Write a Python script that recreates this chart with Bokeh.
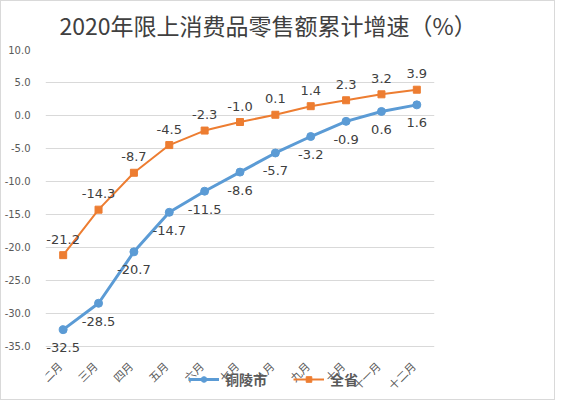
from bokeh.plotting import figure
from bokeh.models import ColumnDataSource, Range1d, FactorRange, Legend, LegendItem, NumeralTickFormatter, LabelSet
from bokeh.core.properties import value
from bokeh.embed import file_html
from bokeh.resources import INLINE
import math

months = ["二月", "三月", "四月", "五月", "六月", "七月", "八月", "九月", "十月", "十一月", "十二月"]
tongling = [-32.5, -28.5, -20.7, -14.7, -11.5, -8.6, -5.7, -3.2, -0.9, 0.6, 1.6]
province = [-21.2, -14.3, -8.7, -4.5, -2.3, -1.0, 0.1, 1.4, 2.3, 3.2, 3.9]
y_ticks = [10, 5, 0, -5, -10, -15, -20, -25, -30, -35]
y_bottom = -35
title_text = "2020年限上消费品零售额累计增速（%）"
series_names = ["铜陵市", "全省"]

BLUE = "#5b9bd5"
ORANGE = "#ed7d31"

src = ColumnDataSource(dict(
    m=months, t=tongling, p=province,
    tl=[f"{v:.1f}" for v in tongling],
    pl=[f"{v:.1f}" for v in province],
    base=[y_bottom] * len(months),
))

p = figure(frame_width=389, frame_height=350, output_backend="svg", toolbar_location=None,
           x_range=FactorRange(*months), y_range=Range1d(-43.1, 10),
           min_border_left=41, min_border_right=120, min_border_top=42, min_border_bottom=0)
p.styles = {"border": "1px solid #d9d9d9", "box-sizing": "border-box"}

p.title.text = title_text
p.title.align = "left"
p.title.offset = 14
p.title.text_font = "Noto Sans CJK SC"
p.title.text_font_size = "23px"
p.title.text_font_style = "normal"
p.title.text_color = "#404040"
p.title.standoff = 12
p.title.vertical_align = "top"

p.outline_line_color = None
p.xgrid.grid_line_color = None
p.ygrid.grid_line_color = "#d9d9d9"
p.ygrid.grid_line_width = 1

p.yaxis.ticker = y_ticks
p.yaxis.formatter = NumeralTickFormatter(format="0.0")
p.yaxis.axis_line_color = None
p.yaxis.major_tick_line_color = None
p.yaxis.minor_tick_line_color = None
p.yaxis.major_label_text_font = "DejaVu Sans"
p.yaxis.major_label_text_font_size = "10px"
p.yaxis.major_label_text_color = "#595959"
p.yaxis.major_label_standoff = 9

p.xaxis.visible = False

# category labels under the -35 line, rotated like the reference
p.add_layout(LabelSet(x="m", y="base", text="m", source=src, angle=math.pi / 4,
                      x_offset=-3.5, y_offset=-17.5, text_align="right", text_baseline="middle",
                      text_font=value("Noto Sans CJK SC"), text_font_size="11px",
                      text_color="#595959"))

l1 = p.line("m", "t", source=src, line_color=BLUE, line_width=3)
c1 = p.scatter("m", "t", source=src, marker="circle", size=8, fill_color=BLUE, line_color=BLUE)
l2 = p.line("m", "p", source=src, line_color=ORANGE, line_width=2)
c2 = p.scatter("m", "p", source=src, marker="square", size=7, fill_color=ORANGE, line_color=ORANGE)

p.add_layout(LabelSet(x="m", y="t", text="tl", source=src, y_offset=-18, text_align="center",
                      text_baseline="middle", text_font=value("DejaVu Sans"), text_font_size="13px",
                      text_color="#404040"))
p.add_layout(LabelSet(x="m", y="p", text="pl", source=src, y_offset=16, text_align="center",
                      text_baseline="middle", text_font=value("DejaVu Sans"), text_font_size="13px",
                      text_color="#404040"))

legend = Legend(items=[LegendItem(label=series_names[0], renderers=[l1, c1]),
                       LegendItem(label=series_names[1], renderers=[l2, c2])],
                orientation="horizontal", location=(143, 10),
                border_line_color=None, background_fill_alpha=0,
                padding=0, margin=0, spacing=26, label_standoff=6,
                glyph_width=31, glyph_height=14,
                label_text_font="Noto Sans CJK SC", label_text_font_size="14px",
                label_text_font_style="bold", label_text_color="#595959")
p.add_layout(legend, "center")

open("out.html", "w").write(file_html(p, INLINE))
